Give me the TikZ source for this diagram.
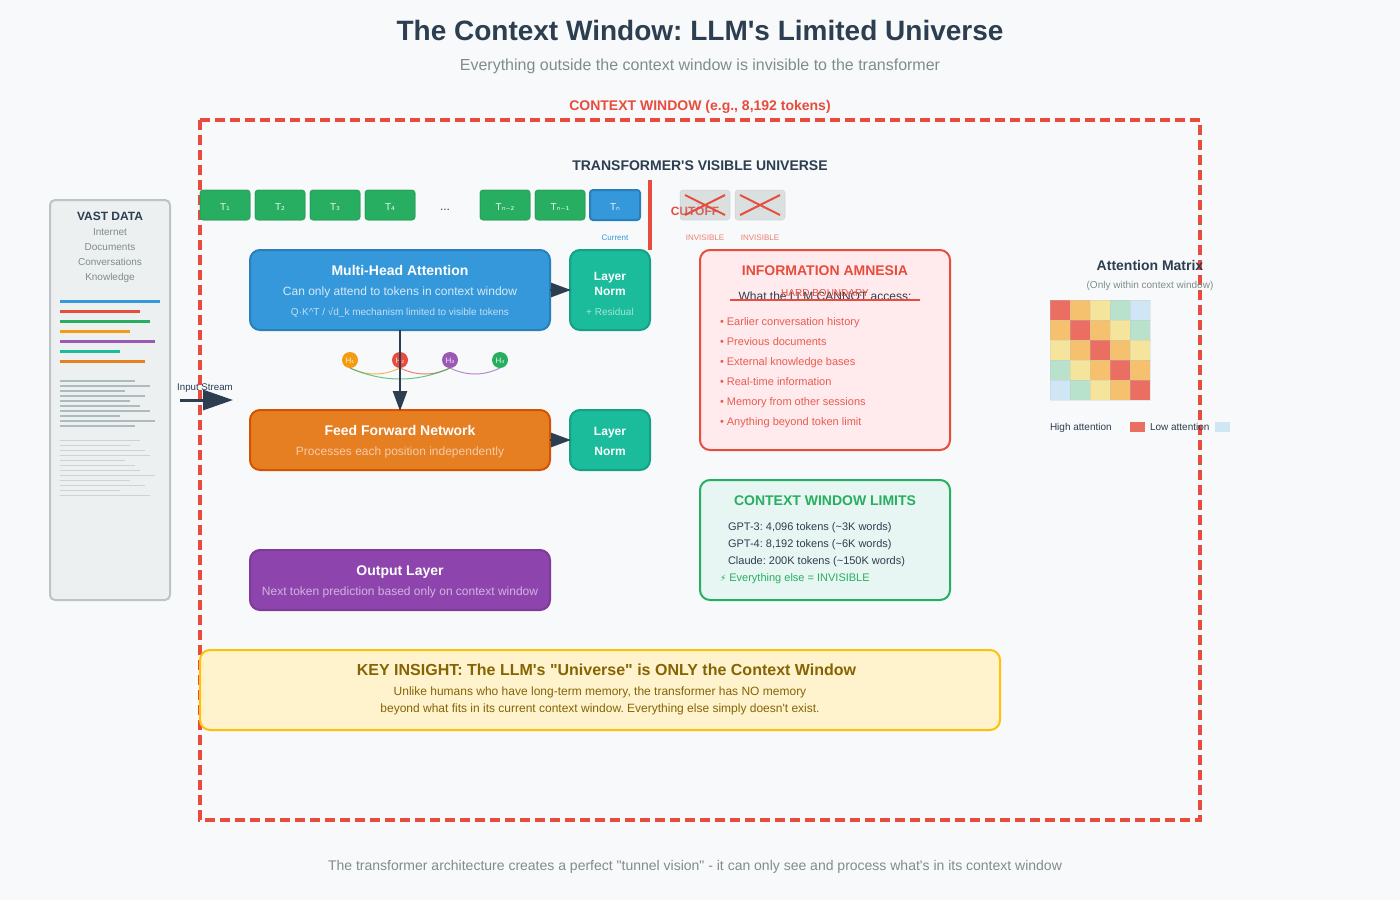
\documentclass[tikz,border=0pt]{standalone}
\usepackage{fontspec}
\setmainfont{Liberation Sans}[Ligatures=TeXOff]
\newfontfamily\djv{DejaVu Sans}
\usetikzlibrary{arrows.meta}
\newcommand{\fsz}[1]{\fontsize{#1}{#1}\selectfont}
\definecolor{bgc}{HTML}{F8F9FA}
\definecolor{ink}{HTML}{2C3E50}
\definecolor{mut}{HTML}{7F8C8D}
\definecolor{rd}{HTML}{E74C3C}
\definecolor{grn}{HTML}{27AE60}
\definecolor{grnd}{HTML}{229954}
\definecolor{blu}{HTML}{3498DB}
\definecolor{blud}{HTML}{2980B9}
\definecolor{org}{HTML}{F39C12}
\definecolor{pur}{HTML}{9B59B6}
\definecolor{tea}{HTML}{1ABC9C}
\definecolor{tead}{HTML}{16A085}
\definecolor{ora}{HTML}{E67E22}
\definecolor{orad}{HTML}{D35400}
\definecolor{vio}{HTML}{8E44AD}
\definecolor{viod}{HTML}{7D3C98}
\definecolor{gr1}{HTML}{95A5A6}
\definecolor{gr2}{HTML}{BDC3C7}
\definecolor{pale}{HTML}{ECF0F1}
\definecolor{yel}{HTML}{F1C40F}
\definecolor{kidk}{HTML}{856404}
\tikzset{
  txt/.style={inner sep=0pt,outer sep=0pt,anchor=base,text=ink},
  ltxt/.style={inner sep=0pt,outer sep=0pt,anchor=base west,text=ink},
  panel/.style={rectangle,rounded corners=10pt,line width=2pt,inner sep=0pt,outer sep=0pt},
  token/.style={rectangle,rounded corners=3pt,minimum width=50pt,minimum height=30pt,inner sep=0pt,outer sep=0pt,fill=grn,draw=grnd,draw opacity=.75,line width=1pt},
  ghost/.style={rectangle,rounded corners=3pt,minimum width=50pt,minimum height=30pt,inner sep=0pt,outer sep=0pt,fill=gr1,fill opacity=.3,draw=gr2,draw opacity=.3,line width=1pt},
  toklab/.style={txt,text=white,text opacity=.9,font=\fsz{10}},
  head/.style={circle,minimum size=16pt,inner sep=0pt,outer sep=0pt},
  headlab/.style={txt,text=white,text opacity=.85,font=\fsz{8}},
  flow/.style={draw=ink,line width=2.5pt,shorten >=-1pt,-{Triangle[length=20pt,width=14pt]}},
  curve/.style={line width=1pt,draw opacity=.7},
  bar/.style={line width=3pt},
  barb/.style={line width=2pt,draw=gr1,draw opacity=.7},
  barc/.style={line width=1pt,draw=gr2,draw opacity=.65},
  cross/.style={draw=rd,line width=2pt},
  cell/.style={rectangle,minimum size=20pt,inner sep=0pt,outer sep=0pt,draw=gr2,draw opacity=.3,line width=.7pt},
}
\begin{document}
\begin{tikzpicture}[x=1pt,y=-1pt]
\frenchspacing
\path[use as bounding box,fill=bgc] (0,0) rectangle (1400,900);
% titles
\node[txt,font=\bfseries\fsz{28}] (title) at (700,40) {The Context Window: LLM's Limited Universe};
\node[txt,text=mut,font=\fsz{16}] (subtitle) at (700,70) {Everything outside the context window is invisible to the transformer};
% context window frame
\draw[rd,line width=3.6pt,dash pattern=on 10pt off 5pt] (200,120) -- (1200,120) -- (1200,820) -- (200,820) -- cycle;
\node[txt,text=rd,font=\bfseries\fsz{14}] (ctxlab) at (700,110) {CONTEXT WINDOW (e.g., 8,192 tokens)};
\node[txt,font=\bfseries\fsz{14}] (univ) at (700,170) {TRANSFORMER'S VISIBLE UNIVERSE};
% vast data panel
\node[rectangle,rounded corners=5pt,minimum width=120pt,minimum height=400pt,inner sep=0pt,outer sep=0pt,fill=pale,draw=gr2,line width=2pt] (vast) at (110,400) {};
\node[txt,font=\bfseries\fsz{12}] (vt) at (110,220) {VAST DATA};
\node[txt,text=mut,font=\fsz{10}] (v1) at (110,235) {Internet};
\node[txt,text=mut,font=\fsz{10}] (v2) at (110,250) {Documents};
\node[txt,text=mut,font=\fsz{10}] (v3) at (110,265) {Conversations};
\node[txt,text=mut,font=\fsz{10}] (v4) at (110,280) {Knowledge};
\foreach \y/\w/\c in {301.5/100/blu,311.5/80/rd,321.5/90/grn,331.5/70/org,341.5/95/pur,351.5/60/tea,361.5/85/ora}
  \draw[bar,\c] (60,\y) -- ++(\w,0);
\foreach \y/\w in {381/75,386/90,391/65,396/85,401/70,406/80,411/90,416/60,421/95,426/75}
  \draw[barb] (60,\y) -- ++(\w,0);
\foreach \y/\w in {440.5/80,445.5/70,450.5/85,455.5/90,460.5/65,465.5/75,470.5/80,475.5/95,480.5/70,485.5/85,490.5/60,495.5/90}
  \draw[barc] (60,\y) -- ++(\w,0);
% input stream
\coordinate (instart) at (180,400);
\coordinate (inend) at (233,400);
\draw[ink,line width=3pt,-{Triangle[length=30pt,width=20pt]}] (instart) -- (inend);
\node[txt,font=\fsz{9.7}] (inlab) at (205,390) {Input Stream};
% tokens
\node[token] (t1) at (225,205) {};
\node[token] (t2) at (280,205) {};
\node[token] (t3) at (335,205) {};
\node[token] (t4) at (390,205) {};
\node[token] (t5) at (505,205) {};
\node[token] (t6) at (560,205) {};
\node[token,fill=blu,draw=blud,draw opacity=1,line width=2pt] (t7) at (615,205) {};
\node[toklab] (l1) at (225,210) {T{\djv\fsz{9.5}₁}};
\node[toklab] (l2) at (280,210) {T{\djv\fsz{9.5}₂}};
\node[toklab] (l3) at (335,210) {T{\djv\fsz{9.5}₃}};
\node[toklab] (l4) at (390,210) {T{\djv\fsz{9.5}₄}};
\node[txt,font=\fsz{12}] (dots) at (445,210) {...};
\node[toklab] (l5) at (505,210) {T{\djv\fsz{9.5}ₙ₋₂}};
\node[toklab] (l6) at (560,210) {T{\djv\fsz{9.5}ₙ₋₁}};
\node[toklab] (l7) at (615,210) {T{\djv\fsz{9.5}ₙ}};
\node[txt,text=blu,font=\fsz{8}] (cur) at (615,240) {Current};
% cutoff
\draw[rd,line width=3.6pt] (650,180) -- (650,250);
\node[txt,text=rd,font=\bfseries\fsz{12}] (cutoff) at (695,215) {CUTOFF};
\node[ghost] (g1) at (705,205) {};
\node[ghost] (g2) at (760,205) {};
\node[toklab,text=gr1,text opacity=.3] (gl1) at (705,210) {T{\djv\fsz{9.5}ₙ₊₁}};
\node[toklab,text=gr1,text opacity=.3] (gl2) at (760,210) {T{\djv\fsz{9.5}ₙ₊₂}};
\draw[cross] (g1.center) ++(-20,-10) -- ++(40,20);
\draw[cross] (g1.center) ++(20,-10) -- ++(-40,20);
\draw[cross] (g2.center) ++(-20,-10) -- ++(40,20);
\draw[cross] (g2.center) ++(20,-10) -- ++(-40,20);
\node[txt,text=rd,text opacity=.7,font=\fsz{8}] (inv1) at (705,240) {INVISIBLE};
\node[txt,text=rd,text opacity=.7,font=\fsz{8}] (inv2) at (760,240) {INVISIBLE};
% architecture boxes
\node[panel,fill=blu,draw=blud,minimum width=300pt,minimum height=80pt] (mha) at (400,290) {};
\node[txt,text=white,font=\bfseries\fsz{14}] (m1) at (400,275) {Multi-Head Attention};
\node[txt,text=white,text opacity=.8,font=\fsz{12}] (m2) at (400,295) {Can only attend to tokens in context window};
\node[txt,text=white,text opacity=.7,font=\fsz{10}] (m3) at (400,315) {Q·K\char"5E T / √d\_k mechanism limited to visible tokens};
\node[panel,fill=tea,draw=tead,minimum width=80pt,minimum height=80pt] (ln1) at (610,290) {};
\node[txt,text=white,font=\bfseries\fsz{12}] (n1) at (610,280) {Layer};
\node[txt,text=white,font=\bfseries\fsz{12}] (n2) at (610,295) {Norm};
\node[txt,text=white,text opacity=.6,font=\fsz{10}] (n3) at (610,315) {+ Residual};
\node[panel,fill=ora,draw=orad,minimum width=300pt,minimum height=60pt] (ffn) at (400,440) {};
\node[txt,text=white,font=\bfseries\fsz{14}] (f1) at (400,435) {Feed Forward Network};
\node[txt,text=white,text opacity=.6,font=\fsz{12}] (f2) at (400,455) {Processes each position independently};
\node[panel,fill=tea,draw=tead,minimum width=80pt,minimum height=60pt] (ln2) at (610,440) {};
\node[txt,text=white,font=\bfseries\fsz{12}] (n4) at (610,435) {Layer};
\node[txt,text=white,font=\bfseries\fsz{12}] (n5) at (610,455) {Norm};
\node[panel,fill=vio,draw=viod,minimum width=300pt,minimum height=60pt] (out) at (400,580) {};
\node[txt,text=white,font=\bfseries\fsz{14}] (o1) at (400,575) {Output Layer};
\node[txt,text=white,text opacity=.6,font=\fsz{12}] (o2) at (400,595) {Next token prediction based only on context window};
% heads
\node[head,fill=org] (h1) at (350,360) {};
\node[head,fill=rd] (h2) at (400,360) {};
\node[head,fill=pur] (h3) at (450,360) {};
\node[head,fill=grn] (h4) at (500,360) {};
\node[headlab] (hl1) at (350,363) {H{\djv\fsz{7.5}₁}};
\node[headlab] (hl2) at (400,363) {H{\djv\fsz{7.5}₂}};
\node[headlab] (hl3) at (450,363) {H{\djv\fsz{7.5}₃}};
\node[headlab] (hl4) at (500,363) {H{\djv\fsz{7.5}₄}};
\draw[curve,org] (h1.south) .. controls +(16.67,8) and +(-16.67,8) .. (h2.south);
\draw[curve,rd] (h2.south) .. controls +(16.67,8) and +(-16.67,8) .. (h3.south);
\draw[curve,pur] (h3.south) .. controls +(16.67,8) and +(-16.67,8) .. (h4.south);
\draw[curve,grn] (h1.south) .. controls +(33.33,14.67) and +(-33.33,14.67) .. (h3.south);
% flows
\draw[flow] (mha.south) -- (ffn.north);
\draw[flow] (mha.east) -- (ln1.west);
\draw[flow] (ffn.east) -- (ln2.west);
% amnesia
\definecolor{amn}{HTML}{FFEBEE}
\node[panel,fill=amn,draw=rd,minimum width=250pt,minimum height=200pt] (amnesia) at (825,350) {};
\node[txt,text=rd,font=\bfseries\fsz{14}] (a0) at (825,275) {INFORMATION AMNESIA};
\node[txt,font=\fsz{12}] (a1) at (825,300) {What the LLM CANNOT access:};
\node[txt,text=rd,font=\fsz{10}] (hard) at (825,296) {HARD BOUNDARY};
\coordinate (hbl) at (730,300);
\coordinate (hbr) at (920,300);
\draw[rd,line width=2pt] (hbl) -- (hbr);
\node[ltxt,text=rd,text opacity=.9,font=\fsz{11}] (b1) at (720,325) {• Earlier conversation history};
\node[ltxt,text=rd,text opacity=.9,font=\fsz{11}] (b2) at (720,345) {• Previous documents};
\node[ltxt,text=rd,text opacity=.9,font=\fsz{11}] (b3) at (720,365) {• External knowledge bases};
\node[ltxt,text=rd,text opacity=.9,font=\fsz{11}] (b4) at (720,385) {• Real-time information};
\node[ltxt,text=rd,text opacity=.9,font=\fsz{11}] (b5) at (720,405) {• Memory from other sessions};
\node[ltxt,text=rd,text opacity=.9,font=\fsz{11}] (b6) at (720,425) {• Anything beyond token limit};
% limits
\definecolor{lim}{HTML}{E8F6F3}
\node[panel,fill=lim,draw=grn,minimum width=250pt,minimum height=120pt] (limits) at (825,540) {};
\node[txt,text=grn,font=\bfseries\fsz{14}] (c0) at (825,505) {CONTEXT WINDOW LIMITS};
\node[ltxt,font=\fsz{11}] (c1) at (728,530) {GPT-3: 4,096 tokens (\char"7E 3K words)};
\node[ltxt,font=\fsz{11}] (c2) at (728,547) {GPT-4: 8,192 tokens (\char"7E 6K words)};
\node[ltxt,font=\fsz{11}] (c3) at (728,564) {Claude: 200K tokens (\char"7E 150K words)};
\node[ltxt,text=grn,font=\fsz{11}] (c4) at (720,581) {{\djv\fsz{9}⚡} Everything else = INVISIBLE};
% key insight
\definecolor{kif}{HTML}{FFF3CD}
\definecolor{kis}{HTML}{FFC107}
\node[panel,fill=kif,draw=kis,minimum width=800pt,minimum height=80pt] (key) at (600,690) {};
\node[txt,text=kidk,font=\bfseries\fsz{16}] (k0) at (606.5,675) {KEY INSIGHT: The LLM's "Universe" is ONLY the Context Window};
\node[txt,text=kidk,font=\fsz{12}] (k1) at (600,695) {Unlike humans who have long-term memory, the transformer has NO memory};
\node[txt,text=kidk,font=\fsz{12}] (k2) at (600,712) {beyond what fits in its current context window. Everything else simply doesn't exist.};
% attention matrix
\node[txt,font=\bfseries\fsz{14}] (am) at (1150,270) {Attention Matrix};
\node[txt,text=mut,font=\fsz{10}] (ams) at (1150,288) {(Only within context window)};
\foreach \r/\row in {0/{rd!80!bgc,org!60!bgc,yel!40!bgc,grn!30!bgc,blu!20!bgc},
                     1/{org!60!bgc,rd!80!bgc,org!60!bgc,yel!40!bgc,grn!30!bgc},
                     2/{yel!40!bgc,org!60!bgc,rd!80!bgc,org!60!bgc,yel!40!bgc},
                     3/{grn!30!bgc,yel!40!bgc,org!60!bgc,rd!80!bgc,org!60!bgc},
                     4/{blu!20!bgc,grn!30!bgc,yel!40!bgc,org!60!bgc,rd!80!bgc}}{
  \foreach \c [count=\k from 0] in \row {
    \node[cell,fill=\c] (cell-\r-\k) at ({1060+20*\k},{310+20*\r}) {};
  }
}
\node[ltxt,font=\fsz{10}] (hi) at (1050,430) {High attention};
\node[rectangle,minimum width=15pt,minimum height=10pt,inner sep=0pt,outer sep=0pt,fill=rd!80!bgc] (hibox) at (1137.5,427) {};
\node[ltxt,font=\fsz{10}] (lo) at (1150,430) {Low attention};
\node[rectangle,minimum width=15pt,minimum height=10pt,inner sep=0pt,outer sep=0pt,fill=blu!20!bgc] (lobox) at (1222.5,427) {};
% footer
\node[txt,text=mut,font=\fsz{14}] (foot) at (695,870) {The transformer architecture creates a perfect "tunnel vision" - it can only see and process what's in its context window};
\end{tikzpicture}
\end{document}
